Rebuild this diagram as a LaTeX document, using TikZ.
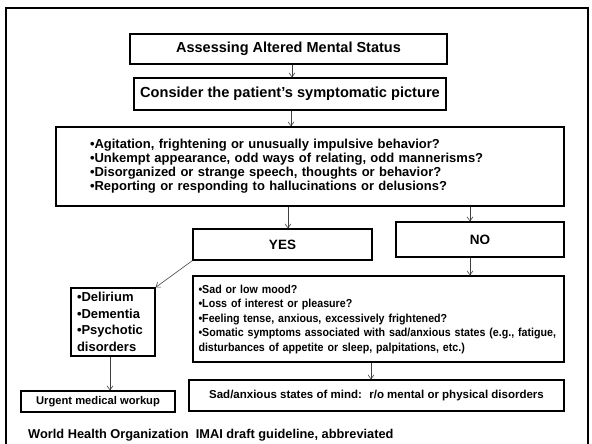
\documentclass[tikz,border=0pt]{standalone}
\usepackage{fontspec}
\setmainfont{Liberation Sans}
\newfontfamily\narrowsans[FakeStretch=0.92]{Liberation Sans}
\usetikzlibrary{arrows.meta,positioning}

\begin{document}
\begin{tikzpicture}[
    x=1pt, y=-1pt,
    font=\bfseries,
    box/.style={draw, line width=1.3pt, align=center, inner sep=0pt},
    arrow/.style={-{Straight Barb[length=4pt,width=6pt]}, line width=0.6pt, draw=black!75}
]
\useasboundingbox (0,0) rectangle (592,444);
\draw[line width=2pt] (6,8) rectangle (588,470);

\node[box, minimum width=317, minimum height=30, font=\bfseries\fontsize{14.5}{17}\selectfont] (title) at (288.5,49) {Assessing Altered Mental Status};
\node[box, minimum width=312, minimum height=32, font=\bfseries\fontsize{14.6}{17}\selectfont] (consider) at (290,94) {Consider the patient’s symptomatic picture};
\node[box, minimum width=508, minimum height=79, text width=440, align=left, font=\bfseries\fontsize{13}{14}\selectfont] (signs) at (310,166.5)
    {•Agitation, frightening or unusually impulsive behavior?\\
     •Unkempt appearance, odd ways of relating, odd mannerisms?\\
     •Disorganized or strange speech, thoughts or behavior?\\
     •Reporting or responding to hallucinations or delusions?};
\node[box, minimum width=179, minimum height=31, font=\bfseries\fontsize{13.5}{16}\selectfont] (yes) at (282.5,244.5) {YES};
\node[box, minimum width=168, minimum height=35, font=\bfseries\fontsize{13.5}{16}\selectfont] (no) at (480,239.5) {NO};
\node[box, minimum width=84, minimum height=68, text width=72, inner xsep=6pt, align=left, font=\bfseries\fontsize{13}{16.5}\selectfont] (organic) at (113,322)
    {•Delirium\\ •Dementia\\ •Psychotic\\ disorders};
\node[box, minimum width=371, minimum height=86, text width=360, inner xsep=5.5pt, align=left, font=\narrowsans\bfseries\fontsize{11.6}{14.5}\selectfont] (mood) at (378.5,319)
    {•Sad or low mood?\\
     •Loss of interest or pleasure?\\
     •Feeling tense, anxious, excessively frightened?\\
     \mbox{•Somatic symptoms associated with sad/anxious states (e.g., fatigue,}\\
     \mbox{disturbances of appetite or sleep, palpitations, etc.)}};
\node[box, minimum width=154, minimum height=21, font=\bfseries\fontsize{11.2}{13}\selectfont] (workup) at (98,401.5) {Urgent medical workup};
\node[box, minimum width=375, minimum height=31, font=\bfseries\fontsize{11.5}{14}\selectfont] (states) at (376.5,395.5) {Sad/anxious states of mind: \ r/o mental or physical disorders};
\node[anchor=base west, inner sep=0pt, font=\bfseries\fontsize{12.8}{15}\selectfont] (source) at (28,438) {World Health Organization \ IMAI draft guideline, abbreviated};

\draw[arrow] ([xshift=3.5pt]title.south) -- ([xshift=3.5pt]title.south |- consider.north);
\draw[arrow] ([xshift=1pt]consider.south) -- ([xshift=1pt]consider.south |- signs.north);
\draw[arrow] ([xshift=5.5pt]yes.north |- signs.south) -- ([xshift=5.5pt]yes.north);
\draw[arrow] ([xshift=-10pt]no.north |- signs.south) -- ([xshift=-10pt]no.north);
\draw[arrow] ([xshift=-10pt]no.south) -- ([xshift=-10pt]no.south |- mood.north);
\draw[arrow] (yes.south west) -- (organic.north east);
\draw[arrow] ([xshift=-3pt]organic.south) -- ([xshift=-3pt]organic.south |- workup.north);
\draw[arrow] ([xshift=-7.5pt]mood.south) -- ([xshift=-7.5pt]mood.south |- states.north);
\end{tikzpicture}
\end{document}
